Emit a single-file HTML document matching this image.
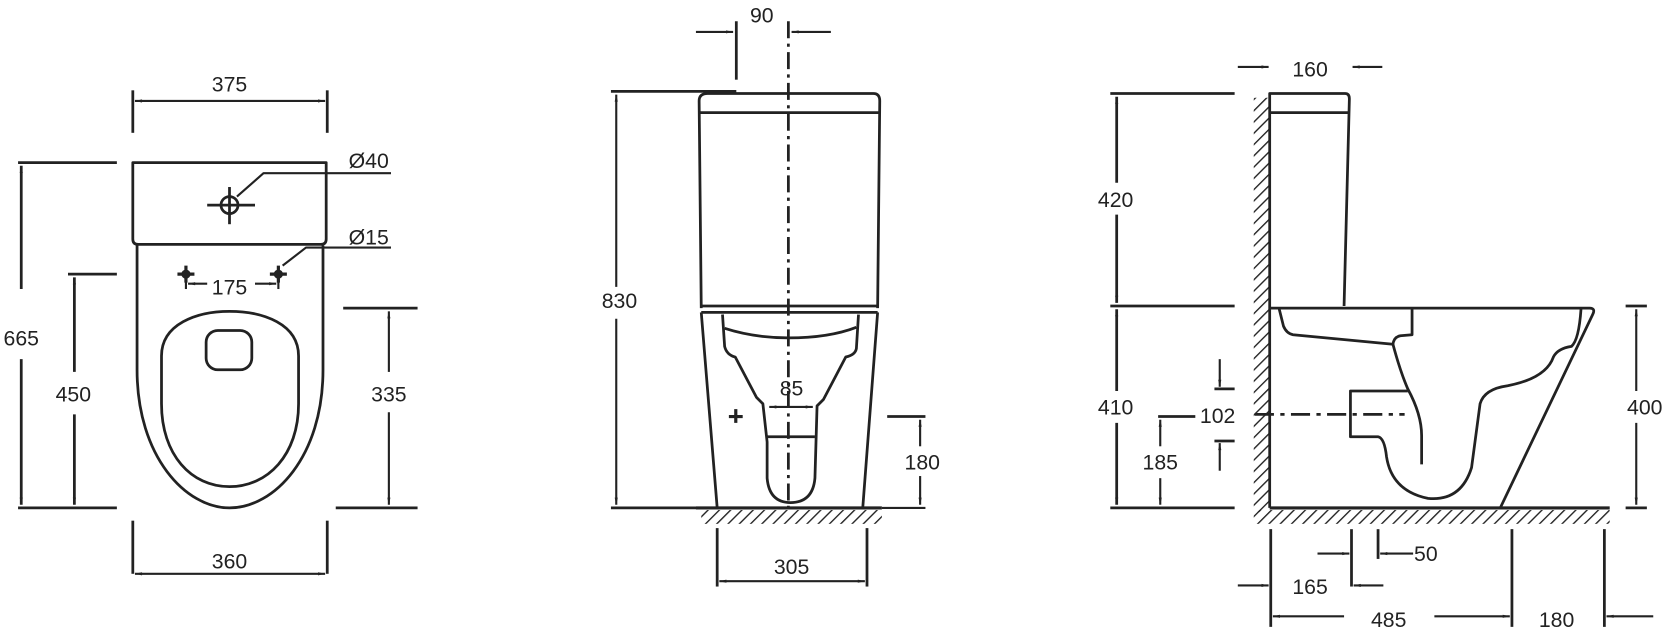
<!DOCTYPE html>
<html><head><meta charset="utf-8"><style>
html,body{margin:0;padding:0;background:#fff;}
svg{display:block}
text{font-family:"Liberation Sans",Arial,sans-serif;font-size:20px;fill:#222;text-anchor:middle}
</style></head><body>
<svg width="1666" height="635" viewBox="0 0 1568 597.6" preserveAspectRatio="none" xmlns="http://www.w3.org/2000/svg">
<defs>
<marker id="a" viewBox="0 0 10 6" refX="10" refY="3" markerWidth="9" markerHeight="4" orient="auto-start-reverse" markerUnits="userSpaceOnUse"><path d="M0,0.8 L10,3 L0,5.2Z" fill="#222"/></marker>
<pattern id="h" patternUnits="userSpaceOnUse" width="7.5" height="7.5" patternTransform="rotate(45)"><line x1="0" y1="0" x2="0" y2="7.5" stroke="#222" stroke-width="2.6"/></pattern>
</defs>
<g fill="none" stroke="#222" stroke-width="2.6" stroke-linejoin="round">
<!-- LEFT VIEW -->
<path d="M125,153 H307 V225 Q307,230 302,230 H130 Q125,230 125,225 Z"/>
<path d="M129,231 V348 C129,430 175,478 216,478 C258,478 304,430 304,348 V231"/>
<path d="M152,335 C152,305 185,293 216,293 C248,293 281,305 281,335 L281,380 C281,428 252,458 216,458 C180,458 152,428 152,380 Z"/>
<rect x="194" y="311" width="43" height="37" rx="11"/>
<circle cx="216" cy="193" r="8"/>
<line x1="195" y1="193" x2="240" y2="193"/><line x1="216" y1="176" x2="216" y2="211"/>
<path d="M223,185 L248,163 H368" stroke-width="2"/>
<path d="M266,250 L288,233 H368" stroke-width="2"/>
<path d="M175,250 v16 M167,258 h16 M262,250 v16 M254,258 h16" stroke-width="3"/>
<circle cx="175" cy="258" r="3" fill="#222"/><circle cx="262" cy="258" r="3" fill="#222"/>
</g>
<g fill="none" stroke="#222" stroke-width="2">
<line x1="125" y1="85" x2="125" y2="125" stroke-width="2.6"/><line x1="308" y1="85" x2="308" y2="125" stroke-width="2.6"/>
<line x1="127" y1="95" x2="306" y2="95" marker-start="url(#a)" marker-end="url(#a)"/>
<line x1="17" y1="153" x2="110" y2="153" stroke-width="2.6"/><line x1="17" y1="478" x2="110" y2="478" stroke-width="2.6"/>
<line x1="20" y1="156" x2="20" y2="272" marker-start="url(#a)" stroke-width="2.6"/><line x1="20" y1="338" x2="20" y2="475" marker-end="url(#a)" stroke-width="2.6"/>
<line x1="64" y1="258" x2="110" y2="258" stroke-width="2.6"/>
<line x1="70" y1="261" x2="70" y2="350" marker-start="url(#a)" stroke-width="2.6"/><line x1="70" y1="390" x2="70" y2="475" marker-end="url(#a)" stroke-width="2.6"/>
<line x1="323" y1="290" x2="393" y2="290" stroke-width="2.6"/><line x1="316" y1="478" x2="393" y2="478" stroke-width="2.6"/>
<line x1="366" y1="293" x2="366" y2="350" marker-start="url(#a)"/><line x1="366" y1="388" x2="366" y2="475" marker-end="url(#a)"/>
<line x1="175" y1="262" x2="175" y2="272"/><line x1="262" y1="262" x2="262" y2="272"/>
<line x1="177" y1="267" x2="195" y2="267" marker-start="url(#a)"/><line x1="240" y1="267" x2="260" y2="267" marker-end="url(#a)"/>
<line x1="125" y1="490" x2="125" y2="540" stroke-width="2.6"/><line x1="308" y1="490" x2="308" y2="540" stroke-width="2.6"/>
<line x1="127" y1="540" x2="306" y2="540" marker-start="url(#a)" marker-end="url(#a)"/>
</g>
<text x="216" y="86">375</text><text x="347" y="158">Ø40</text><text x="347" y="230">Ø15</text>
<text x="216" y="277">175</text><text x="20" y="325">665</text><text x="69" y="378">450</text>
<text x="366" y="378">335</text><text x="216" y="535">360</text>

<!-- MIDDLE VIEW -->
<g fill="none" stroke="#222" stroke-width="2.6" stroke-linejoin="round">
<path d="M660,290 L658,95 Q658,88 666,88 H822 Q828,88 828,95 L826,290"/>
<line x1="659" y1="106" x2="828" y2="106"/>
<line x1="660" y1="288" x2="826" y2="288"/><line x1="660" y1="294" x2="826" y2="294"/>
<path d="M660,294 L675,478 M826,294 L812,478"/>
<path d="M680,296 L682,326 Q684,334 692,336 L712,374 L718,380 L722,416 L722,450 Q724,473 744,473 Q765,473 767,450 L769,382 L775,376 L796,336 Q805,334 806,328 L808,296"/>
<path d="M682,309 Q710,318 742,318 Q780,318 806,308"/>
<line x1="722" y1="411" x2="767" y2="411"/>
<path d="M686,392 h13 M692.5,385 v13" stroke-width="3"/>
<line x1="655" y1="478" x2="830" y2="478" stroke-width="3"/>
</g>
<rect x="660" y="480" width="170" height="13" fill="url(#h)"/>
<g fill="none" stroke="#222" stroke-width="2">
<line x1="742" y1="20" x2="742" y2="478" stroke-dasharray="16,5,3,5" stroke-width="2.6"/>
<line x1="693" y1="20" x2="693" y2="75" stroke-width="2.6"/>
<line x1="655" y1="30" x2="690" y2="30" marker-end="url(#a)"/><line x1="782" y1="30" x2="745" y2="30" marker-end="url(#a)"/>
<line x1="575" y1="86" x2="693" y2="86" stroke-width="2.6"/><line x1="575" y1="478" x2="660" y2="478" stroke-width="2.6"/>
<line x1="580" y1="89" x2="580" y2="270" marker-start="url(#a)"/><line x1="580" y1="300" x2="580" y2="475" marker-end="url(#a)"/>
<line x1="724" y1="383" x2="765" y2="383" marker-start="url(#a)" marker-end="url(#a)"/>
<line x1="835" y1="392" x2="871" y2="392" stroke-width="2.6"/><line x1="830" y1="478" x2="871" y2="478"/>
<line x1="866" y1="395" x2="866" y2="420" marker-start="url(#a)"/><line x1="866" y1="448" x2="866" y2="475" marker-end="url(#a)"/>
<line x1="675" y1="497" x2="675" y2="552" stroke-width="2.6"/><line x1="816" y1="497" x2="816" y2="552" stroke-width="2.6"/>
<line x1="677" y1="547" x2="814" y2="547" marker-start="url(#a)" marker-end="url(#a)"/>
</g>
<text x="717" y="21">90</text><text x="583" y="290">830</text><text x="745" y="372">85</text>
<text x="868" y="442">180</text><text x="745" y="540">305</text>

<!-- RIGHT VIEW -->
<g fill="none" stroke="#222" stroke-width="2.6" stroke-linejoin="round">
<path d="M1195,478 V88 H1266 Q1270,88 1270,93 L1265,288"/>
<line x1="1196" y1="106" x2="1269" y2="106"/>
<path d="M1195,290 H1496 Q1502,290 1499,296 L1412,478"/>
<line x1="1195" y1="478" x2="1515" y2="478" stroke-width="3"/>
<path d="M1204,291 L1208,307 Q1211,314 1217,315 L1311,324 Q1312,317 1318,316 L1329,315 V291"/>
<path d="M1311,324 Q1318,350 1325,366 Q1338,390 1338,410 L1338,437"/>
<path d="M1325,368 H1271 V411 H1297 Q1303,412 1305,430 Q1310,462 1344,469 Q1375,472 1385,440 L1393,380 Q1397,366 1419,363 Q1455,356 1462,336 Q1466,328 1479,326 Q1486,320 1488,291"/>
</g>
<rect x="1180" y="92" width="14" height="390" fill="url(#h)"/>
<rect x="1180" y="480" width="335" height="13" fill="url(#h)"/>
<g fill="none" stroke="#222" stroke-width="2">
<line x1="1181" y1="390" x2="1322" y2="390" stroke-dasharray="18,6,4,6" stroke-width="2.6"/>
<line x1="1165" y1="63" x2="1194" y2="63" marker-end="url(#a)"/><line x1="1301" y1="63" x2="1273" y2="63" marker-end="url(#a)"/>
<line x1="1045" y1="88" x2="1162" y2="88" stroke-width="2.6"/><line x1="1045" y1="288" x2="1162" y2="288" stroke-width="2.6"/><line x1="1045" y1="478" x2="1162" y2="478" stroke-width="2.6"/>
<line x1="1051" y1="91" x2="1051" y2="172" marker-start="url(#a)" stroke-width="2.6"/><line x1="1051" y1="202" x2="1051" y2="285" marker-end="url(#a)" stroke-width="2.6"/>
<line x1="1051" y1="291" x2="1051" y2="368" marker-start="url(#a)" stroke-width="2.6"/><line x1="1051" y1="398" x2="1051" y2="475" marker-end="url(#a)" stroke-width="2.6"/>
<line x1="1090" y1="392" x2="1125" y2="392" stroke-width="2.6"/>
<line x1="1092" y1="395" x2="1092" y2="420" marker-start="url(#a)"/><line x1="1092" y1="450" x2="1092" y2="475" marker-end="url(#a)"/>
<line x1="1143" y1="366" x2="1162" y2="366" stroke-width="2.6"/><line x1="1143" y1="415" x2="1162" y2="415" stroke-width="2.6"/>
<line x1="1148" y1="338" x2="1148" y2="364" marker-end="url(#a)"/><line x1="1148" y1="443" x2="1148" y2="417" marker-end="url(#a)"/>
<line x1="1530" y1="288" x2="1550" y2="288" stroke-width="2.6"/><line x1="1530" y1="478" x2="1550" y2="478" stroke-width="2.6"/>
<line x1="1540" y1="291" x2="1540" y2="368" marker-start="url(#a)"/><line x1="1540" y1="398" x2="1540" y2="475" marker-end="url(#a)"/>
<line x1="1196" y1="498" x2="1196" y2="590" stroke-width="2.6"/><line x1="1272" y1="498" x2="1272" y2="552" stroke-width="2.6"/>
<line x1="1297" y1="498" x2="1297" y2="526" stroke-width="2.6"/><line x1="1423" y1="498" x2="1423" y2="590" stroke-width="2.6"/>
<line x1="1510" y1="498" x2="1510" y2="590" stroke-width="2.6"/>
<line x1="1240" y1="521" x2="1270" y2="521" marker-end="url(#a)"/><line x1="1330" y1="521" x2="1299" y2="521" marker-end="url(#a)"/>
<line x1="1165" y1="551" x2="1194" y2="551" marker-end="url(#a)"/><line x1="1302" y1="551" x2="1274" y2="551" marker-end="url(#a)"/>
<line x1="1198" y1="580" x2="1265" y2="580" marker-start="url(#a)"/><line x1="1350" y1="580" x2="1421" y2="580" marker-end="url(#a)"/>
<line x1="1556" y1="580" x2="1512" y2="580" marker-end="url(#a)"/>
</g>
<text x="1233" y="72">160</text><text x="1050" y="195">420</text><text x="1050" y="390">410</text>
<text x="1146" y="398">102</text><text x="1092" y="442">185</text><text x="1548" y="390">400</text>
<text x="1342" y="528">50</text><text x="1233" y="559">165</text><text x="1307" y="590">485</text><text x="1465" y="590">180</text>
</svg>
</body></html>
